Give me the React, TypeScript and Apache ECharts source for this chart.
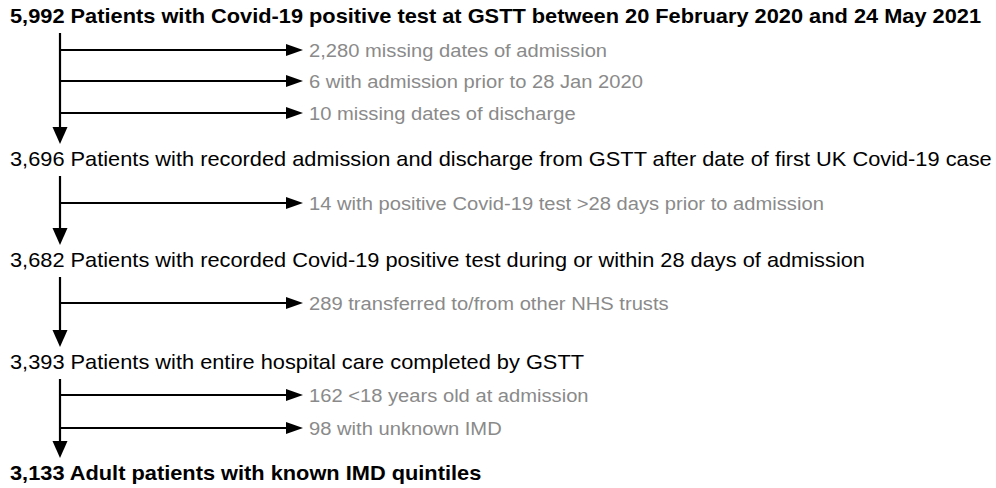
import React, { useEffect, useRef } from "react";
import * as echarts from "echarts";

const stepCounts = [5992, 3696, 3682, 3393, 3133];
const stepLabels = [
  "Patients with Covid-19 positive test at GSTT between 20 February 2020 and 24 May 2021",
  "Patients with recorded admission and discharge from GSTT after date of first UK Covid-19 case",
  "Patients with recorded Covid-19 positive test during or within 28 days of admission",
  "Patients with entire hospital care completed by GSTT",
  "Adult patients with known IMD quintiles",
];
const stepBold = [true, false, false, false, true];
const exclusionCounts = [[2280, 6, 10], [14], [289], [162, 98]];
const exclusionLabels = [
  ["missing dates of admission", "with admission prior to 28 Jan 2020", "missing dates of discharge"],
  ["with positive Covid-19 test >28 days prior to admission"],
  ["transferred to/from other NHS trusts"],
  ["<18 years old at admission", "with unknown IMD"],
];

// layout
const stepY = [16, 159, 260, 362, 473];
const exclY = [[50, 81, 113], [203], [303], [395, 428]];
const LX = 60;
const TIPX = 303;
const TEXTX = 309;
const SX = 1.09;
const FONT = "Liberation Sans, Arial, sans-serif";

const fmt = (n: number) => n.toLocaleString("en-US");

export default function App() {
  const ref = useRef<HTMLDivElement>(null);
  useEffect(() => {
    if (!ref.current) return;
    const chart = echarts.init(ref.current, null, { renderer: "svg" });
    const els: any[] = [];
    const lineStyle = { stroke: "#000", lineWidth: 2.2 };
    stepCounts.forEach((c, i) => {
      els.push({
        type: "text",
        x: 10,
        y: stepY[i],
        scaleX: SX,
        style: {
          text: fmt(c) + " " + stepLabels[i],
          x: 0,
          y: 0,
          fill: "#000",
          font: (stepBold[i] ? "bold 20px " : "20px ") + FONT,
          textVerticalAlign: "middle",
        },
      });
    });
    for (let i = 0; i < stepCounts.length - 1; i++) {
      const y0 = stepY[i] + 17;
      const tip = stepY[i + 1] - 15;
      els.push({ type: "line", shape: { x1: LX, y1: y0, x2: LX, y2: tip - 16 }, style: lineStyle });
      els.push({
        type: "polygon",
        shape: { points: [[LX - 7.5, tip - 17], [LX + 7.5, tip - 17], [LX, tip]] },
        style: { fill: "#000" },
      });
      exclusionCounts[i].forEach((c, j) => {
        const y = exclY[i][j];
        els.push({ type: "line", shape: { x1: LX, y1: y, x2: TIPX - 16, y2: y }, style: lineStyle });
        els.push({
          type: "polygon",
          shape: { points: [[TIPX - 17, y - 6], [TIPX - 17, y + 6], [TIPX, y]] },
          style: { fill: "#000" },
        });
        els.push({
          type: "text",
          x: TEXTX,
          y,
          scaleX: SX,
          style: {
            text: fmt(c) + " " + exclusionLabels[i][j],
            x: 0,
            y: 0,
            fill: "#8a8a8a",
            font: "18.5px " + FONT,
            textVerticalAlign: "middle",
          },
        });
      });
    }
    chart.setOption({ animation: false, backgroundColor: "#fff", graphic: { elements: els } });
    return () => chart.dispose();
  }, []);
  return <div ref={ref} style={{ position: "fixed", left: 0, top: 0, width: 996, height: 488 }} />;
}
